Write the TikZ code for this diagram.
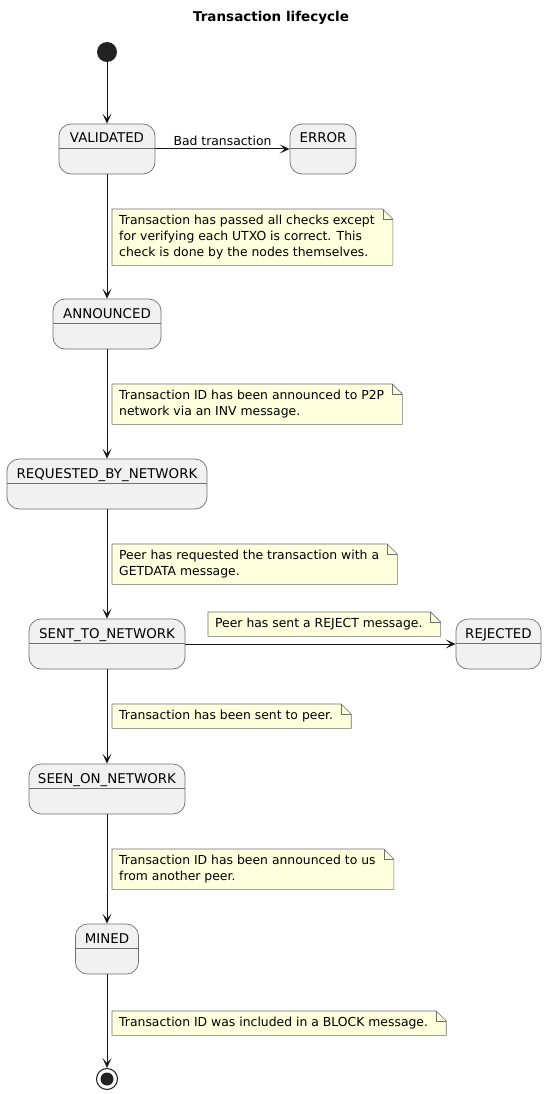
\documentclass[tikz,border=0pt]{standalone}
\usepackage{fontspec}
\setmainfont{DejaVu Sans}
\usepackage{tikz}
\usetikzlibrary{arrows.meta,backgrounds,calc}

\definecolor{statefill}{HTML}{F1F1F1}
\definecolor{notefill}{HTML}{FEFFDD}
\definecolor{linec}{HTML}{181818}
\definecolor{borderc}{HTML}{6F6F6F}
\definecolor{dotc}{HTML}{222222}

\tikzset{
  state/.style={draw=borderc, line width=0.7pt, fill=statefill, rounded corners=12pt,
    inner xsep=0pt, inner ysep=0pt, text height=19pt, text depth=31pt,
    font=\fontsize{13.4}{16}\selectfont,
    path picture={\draw[borderc, line width=0.7pt]
      ([yshift=1pt]path picture bounding box.west) -- ([yshift=1pt]path picture bounding box.east);}},
  note/.style={anchor=north west, align=left, inner xsep=7pt, inner ysep=6pt,
    font=\fontsize{12.4}{16}\selectfont},
  notebox/.style={draw=borderc, line width=0.6pt, fill=notefill},
  trans/.style={draw=linec, line width=1pt, -{Stealth[length=10pt,width=9pt,inset=5pt]}},
  startst/.style={circle, fill=dotc, minimum size=20pt, inner sep=0pt},
  endst/.style={circle, draw=linec, line width=1pt, minimum size=21pt, inner sep=0pt,
    path picture={\fill[dotc] (path picture bounding box.center) circle (6.5pt);}}
}

% note outline with folded corner
\newcommand{\notebg}[1]{%
\begin{scope}[on background layer]
\draw[notebox] (#1.south west) -- (#1.north west) -- ($(#1.north east)+(1pt,0pt)$)
  -- ++(10pt,-10pt) -- ($(#1.south east)+(11pt,0pt)$) -- cycle;
\draw[borderc, line width=0.6pt] ($(#1.north east)+(1pt,0pt)$) |- ++(10pt,-10pt);
\end{scope}}

\begin{document}
\begin{tikzpicture}[x=1pt,y=-1pt]
\useasboundingbox (0,0) rectangle (547,1094);
%
\node[font=\bfseries\fontsize{13.5}{16}\selectfont] (title) at (271,18) {Transaction lifecycle};
%
% states
\node[startst] (start) at (107,52) {};
\foreach \n/\x/\y/\w/\t in {val/107/149/96/VALIDATED, err/323/149/66/ERROR,
    ann/107/324/108/ANNOUNCED, req/107/484/200/REQUESTED\_BY\_NETWORK,
    sent/107/644/156/SENT\_TO\_NETWORK, rej/498.5/644/85/REJECTED,
    seen/107/789/156/SEEN\_ON\_NETWORK, mined/107/949/63/MINED}
  \node[state, minimum width=\w pt] (\n) at (\x,\y) {\t};
\node[endst] (end) at (107,1079) {};
%
% transitions
\draw[trans] (start) -- (val);
\draw[trans] (val) -- node[above, font=\fontsize{12.4}{14}\selectfont, inner sep=3pt] {Bad transaction} (err);
\foreach \a/\b in {val/ann, ann/req, req/sent, sent/seen, seen/mined, mined/end}
  \draw[trans] (\a) -- (\b);
\draw[trans] (sent) -- (rej);
%
% notes
\node[note] (n1) at (112,209) {Transaction has passed all checks except\\for verifying each UTXO is correct. This\\check is done by the nodes themselves.};
\node[note] (n2) at (112,384) {Transaction ID has been announced to P2P\\network via an INV message.};
\node[note] (n3) at (112,544) {Peer has requested the transaction with a\\GETDATA message.};
\node[note] (n4) at (208,612) {Peer has sent a REJECT message.};
\node[note] (n5) at (112,704) {Transaction has been sent to peer.};
\node[note] (n6) at (112,849) {Transaction ID has been announced to us\\from another peer.};
\node[note] (n7) at (112,1011) {Transaction ID was included in a BLOCK message.};
\foreach \n in {n1,n2,n3,n4,n5,n6,n7}
  {\notebg{\n}}
%
\end{tikzpicture}
\end{document}
